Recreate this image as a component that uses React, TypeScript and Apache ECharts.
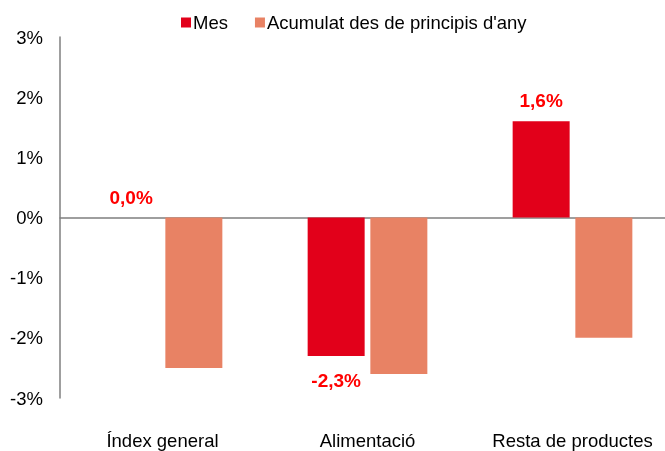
import React, { useEffect, useRef } from "react";
import * as echarts from "echarts";

const categories = ["Índex general", "Alimentació", "Resta de productes"];
const mesValues = [0.0, -2.3, 1.6];
const acumulatValues = [-2.5, -2.6, -2.0];
const seriesNames = ["Mes", "Acumulat des de principis d'any"];
const yTicks = { min: -3, max: 3, interval: 1 };

const FONT = "'Liberation Sans', Arial, sans-serif";
const FS = 18.5;

export default function App() {
  const ref = useRef<HTMLDivElement>(null);
  useEffect(() => {
    if (!ref.current) return;
    document.body.style.margin = "0";
    document.body.style.overflow = "hidden";
    const chart = echarts.init(ref.current, undefined, { renderer: "svg", width: 665, height: 451 });
    const fmt = (v: number) => v.toFixed(1).replace(".", ",") + "%";
    chart.setOption({
      animation: false,
      textStyle: { fontFamily: FONT },
      legend: {
        top: 8,
        left: 176,
        itemWidth: 10,
        itemHeight: 10,
        itemGap: 27,
        icon: "rect",
        textStyle: { fontFamily: FONT, fontSize: FS, color: "#000", padding: [0, 0, 0, -3] },
        data: seriesNames,
      },
      grid: {
        left: 60,
        width: 615,
        top: 37,
        bottom: 53,
        containLabel: false,
        outerBoundsMode: "none",
      },
      xAxis: [
        {
          type: "category",
          data: categories,
          position: "bottom",
          axisLine: { show: false, onZero: false },
          axisTick: { show: false },
          axisLabel: { fontFamily: FONT, fontSize: FS, color: "#000", margin: 33, interval: 0, hideOverlap: false },
        },
        {
          type: "category",
          data: categories,
          axisLine: { show: true, onZero: true, lineStyle: { color: "#7f7f7f", width: 1.5 } },
          axisTick: { show: false },
          axisLabel: { show: false },
        },
      ],
      yAxis: {
        type: "value",
        min: yTicks.min,
        max: yTicks.max,
        interval: yTicks.interval,
        axisLine: { show: true, lineStyle: { color: "#7f7f7f", width: 1.5 } },
        axisTick: { show: false },
        splitLine: { show: false },
        axisLabel: {
          fontFamily: FONT,
          fontSize: FS,
          color: "#000",
          margin: 17,
          formatter: "{value}%",
        },
      },
      series: [
        {
          name: seriesNames[0],
          type: "bar",
          xAxisIndex: 0,
          barWidth: 57,
          barGap: "10%",
          itemStyle: { color: "#e2001a" },
          data: mesValues.map((v) => ({
            value: v,
            label: {
              show: true,
              position: v >= 0 ? "top" : "bottom",
              distance: v >= 0 ? 11 : 15,
              formatter: () => fmt(v),
              color: "#ff0000",
              fontWeight: "bold",
              fontSize: 19,
              fontFamily: FONT,
            },
          })),
        },
        {
          name: seriesNames[1],
          type: "bar",
          xAxisIndex: 0,
          barWidth: 57,
          barGap: "10%",
          itemStyle: { color: "#e88264" },
          data: acumulatValues,
        },
      ],
    });
    return () => chart.dispose();
  }, []);
  return (
    <div
      ref={ref}
      style={{ position: "fixed", left: 0, top: 0, width: 665, height: 451, overflow: "hidden" }}
    />
  );
}
